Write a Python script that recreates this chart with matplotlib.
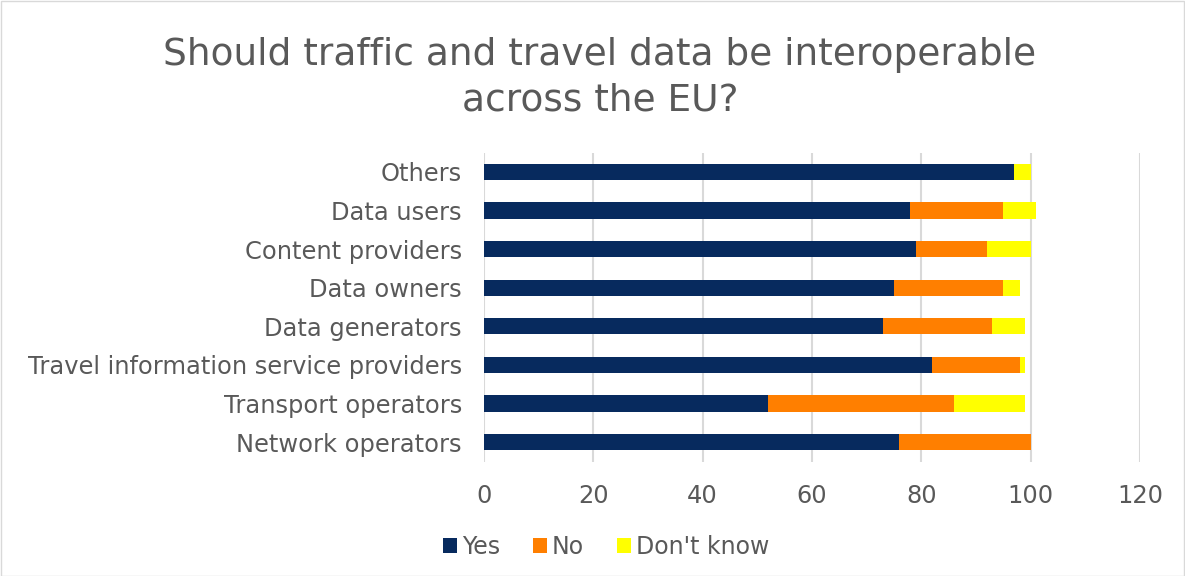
import matplotlib
matplotlib.use("Agg")
import matplotlib.pyplot as plt
from matplotlib.patches import Rectangle
import numpy as np

categories = ["Network operators", "Transport operators",
              "Travel information service providers", "Data generators",
              "Data owners", "Content providers", "Data users", "Others"]
yes = [76, 52, 82, 73, 75, 79, 78, 97]
no = [24, 34, 16, 20, 20, 13, 17, 0]
dont_know = [0, 13, 1, 6, 3, 8, 6, 3]
series_names = ["Yes", "No", "Don't know"]
colors = ["#072A5E", "#FF7F00", "#FFFF00"]
xticks = [0, 20, 40, 60, 80, 100, 120]

W, H = 1185, 576
fig = plt.figure(figsize=(W / 100, H / 100), dpi=100)
fig.patches.append(Rectangle((0.5 / W, 0.5 / H), 1 - 1.5 / W, 1 - 1.5 / H,
                             transform=fig.transFigure, fill=False,
                             edgecolor="#D9D9D9", linewidth=1))

ax = fig.add_axes([484 / W, 1 - 461.5 / H, (1140 - 484) / W, (461.5 - 152.5) / H])
y = np.arange(len(categories))
h = 0.42
left = np.zeros(len(categories))
for vals, name, c in zip([yes, no, dont_know], series_names, colors):
    ax.barh(y, vals, left=left, height=h, color=c, label=name, zorder=3)
    left = left + np.array(vals)

ax.set_xlim(0, 120)
ax.set_ylim(-0.5, len(categories) - 0.5)
ax.set_xticks(xticks)
ax.set_yticks(y)
ax.set_yticklabels(categories)
ax.grid(axis="x", color="#D9D9D9", linewidth=1.5, zorder=0)
for s in ax.spines.values():
    s.set_visible(False)
ax.tick_params(axis="both", length=0, labelsize=17.4, labelcolor="#595959")
ax.tick_params(axis="x", pad=16)
ax.tick_params(axis="y", pad=16)

fig.text(600 / W, 1 - 78 / H, "Should traffic and travel data be interoperable\nacross the EU?",
         ha="center", va="center", fontsize=27, color="#595959", linespacing=1.33)

handles, labels = ax.get_legend_handles_labels()
fig.legend(handles, labels, loc="center", bbox_to_anchor=(606 / W, 1 - 547 / H),
           ncol=3, frameon=False, fontsize=17, labelcolor="#595959",
           handlelength=0.6, handleheight=0.6, handletextpad=0.2, columnspacing=1.4)

fig.savefig("out.png", dpi=100)
